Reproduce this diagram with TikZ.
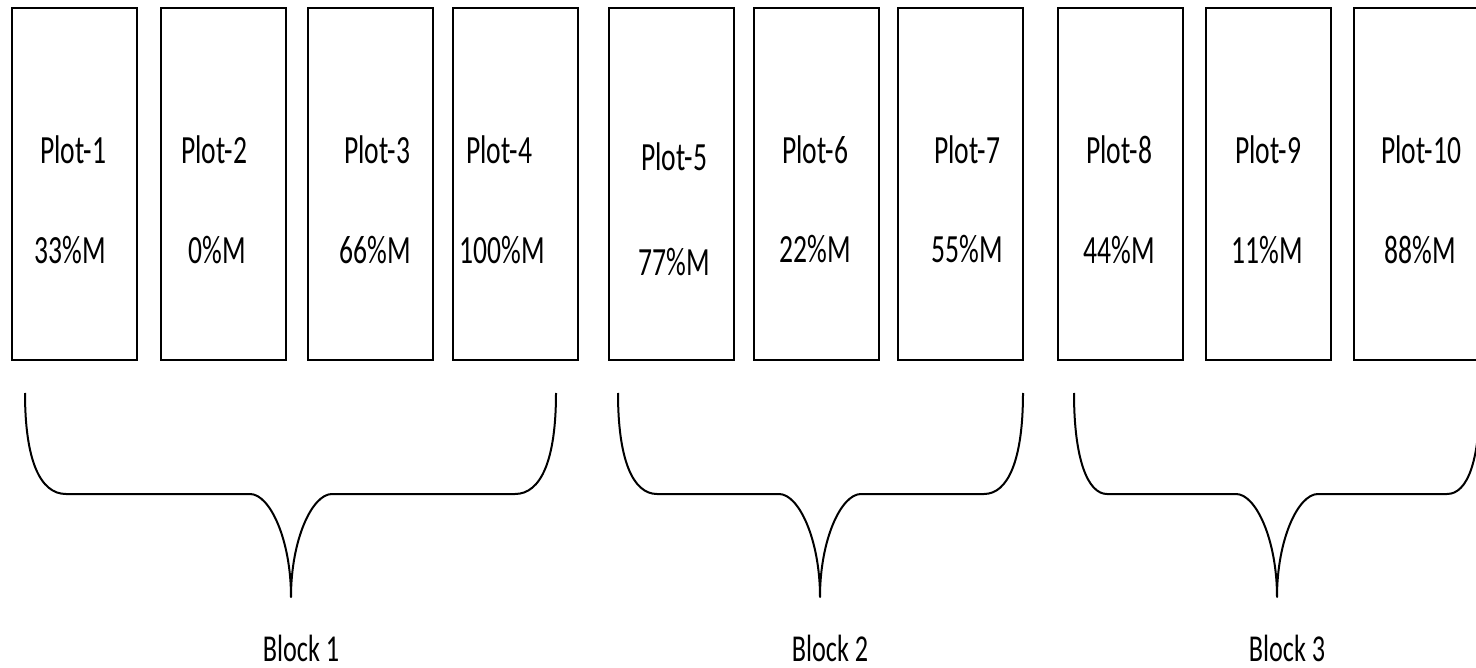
\documentclass[tikz,border=0pt]{standalone}
\usepackage{fontspec}
\setmainfont{Carlito}[FakeStretch=0.69]
\begin{document}
\begin{tikzpicture}[x=1pt,y=-1pt,
  plotbox/.style={draw,line width=2pt,rectangle,anchor=north west,minimum width=125pt,minimum height=352pt,inner sep=0pt},
  lbl/.style={font=\fontsize{40}{48}\selectfont,inner sep=0pt,anchor=center},
  blocklbl/.style={font=\fontsize{38}{46}\selectfont,inner sep=0pt,anchor=base},
  bracepath/.style={line width=2pt,line join=round}]
\useasboundingbox (0,0) rectangle (1476,668);
% boxes
\node[plotbox] (b1) at (11,7) {};
\node[plotbox] (b2) at (160,7) {};
\node[plotbox] (b3) at (307,7) {};
\node[plotbox] (b4) at (452,7) {};
\node[plotbox] (b5) at (608,7) {};
\node[plotbox] (b6) at (753,7) {};
\node[plotbox] (b7) at (897,7) {};
\node[plotbox] (b8) at (1057,7) {};
\node[plotbox] (b9) at (1205,7) {};
\node[plotbox] (b10) at (1353,7) {};
% labels
\node[lbl] (p1) at (73,150) {Plot-1};
\node[lbl] (m1) at (70,250) {33\%M};
\node[lbl] (p2) at (214,150) {Plot-2};
\node[lbl] (m2) at (217,250) {0\%M};
\node[lbl] (p3) at (377,150) {Plot-3};
\node[lbl] (m3) at (375,250) {66\%M};
\node[lbl] (p4) at (499,150) {Plot-4};
\node[lbl] (m4) at (502,250) {100\%M};
\node[lbl] (p5) at (674,157) {Plot-5};
\node[lbl] (m5) at (674,262) {77\%M};
\node[lbl] (p6) at (815,150) {Plot-6};
\node[lbl] (m6) at (815,249) {22\%M};
\node[lbl] (p7) at (967,150) {Plot-7};
\node[lbl] (m7) at (967,249) {55\%M};
\node[lbl] (p8) at (1119,150) {Plot-8};
\node[lbl] (m8) at (1119,250) {44\%M};
\node[lbl] (p9) at (1268,150) {Plot-9};
\node[lbl] (m9) at (1267,250) {11\%M};
\node[lbl] (p10) at (1421,150) {Plot-10};
\node[lbl] (m10) at (1420,250) {88\%M};
% braces
\draw[bracepath] (25,393) .. controls (25,460) and (40,494) .. (66,494)
  -- (250,494) .. controls (270,494) and (291,540) .. (291,597)
  .. controls (291,540) and (312,494) .. (332,494)
  -- (515,494) .. controls (541,494) and (556,460) .. (556,393);
\draw[bracepath] (618,393) .. controls (618,460) and (633,494) .. (657,494)
  -- (779,494) .. controls (799,494) and (820,540) .. (820,597)
  .. controls (820,540) and (841,494) .. (861,494)
  -- (984,494) .. controls (1008,494) and (1023,460) .. (1023,393);
\draw[bracepath] (1074,393) .. controls (1074,460) and (1088,494) .. (1107,494)
  -- (1236,494) .. controls (1256,494) and (1277,540) .. (1277,597)
  .. controls (1277,540) and (1298,494) .. (1318,494)
  -- (1447,494) .. controls (1468,494) and (1480,460) .. (1480,393);
\node[blocklbl] (k1) at (301,661) {Block 1};
\node[blocklbl] (k2) at (830,661) {Block 2};
\node[blocklbl] (k3) at (1287,661) {Block 3};
\end{tikzpicture}
\end{document}
